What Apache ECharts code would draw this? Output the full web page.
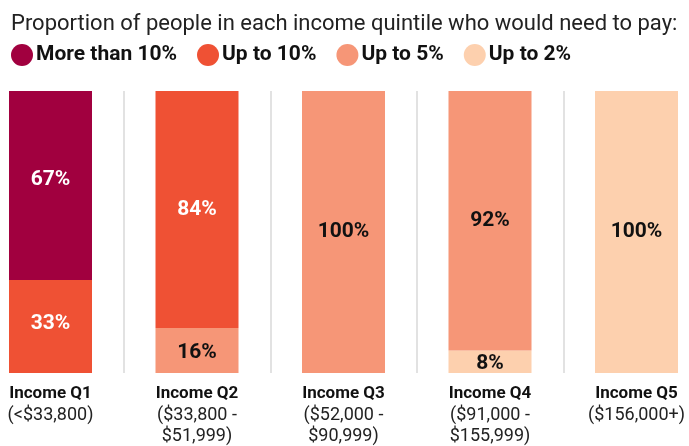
<!DOCTYPE html>
<html><head><meta charset="utf-8">
<script src="https://cdn.jsdelivr.net/npm/echarts@6/dist/echarts.min.js"></script>
<style>html,body{margin:0;padding:0;background:#fff}#c{width:689px;height:446px}</style>
</head><body><div id="c"></div>
<script>
const categories = ['Income Q1', 'Income Q2', 'Income Q3', 'Income Q4', 'Income Q5'];
const ranges = ['(<$33,800)', '($33,800 -\n$51,999)', '($52,000 -\n$90,999)', '($91,000 -\n$155,999)', '($156,000+)'];
const seriesNames = ['More than 10%', 'Up to 10%', 'Up to 5%', 'Up to 2%'];
const moreThan10 = [67, null, null, null, null];
const upTo10 = [33, 84, null, null, null];
const upTo5 = [null, 16, 100, 92, null];
const upTo2 = [null, null, null, 8, 100];
const titleText = 'Proportion of people in each income quintile who would need to pay:';

const colors = {'More than 10%': '#A1003F', 'Up to 10%': '#EF5134', 'Up to 5%': '#F69677', 'Up to 2%': '#FDD0AE'};
const labelColors = {'More than 10%': '#fff', 'Up to 10%': '#fff', 'Up to 5%': '#111', 'Up to 2%': '#111'};
const labelShift = {'More than 10%': [-6, 0, 0, 0, 0], 'Up to 10%': [-3, 0, 0, 0, 0], 'Up to 5%': [0, 2, 0, 0, 0], 'Up to 2%': [0, 0, 0, 2, 0]};
const FONT = 'Roboto';

function mk(name, data) {
  return {
    name, type: 'bar', stack: 'total', barWidth: 83,
    data: data.map((v, i) => ({value: v, label: {offset: [0, labelShift[name][i]]}})),
    itemStyle: {color: colors[name]},
    label: {show: true, position: 'inside', formatter: p => p.value + '%',
      color: labelColors[name], fontFamily: FONT, fontWeight: 'bold', fontSize: 21},
    emphasis: {disabled: true}
  };
}

const chart = echarts.init(document.getElementById('c'), null, {renderer: 'canvas'});
chart.setOption({
  animation: false,
  title: {text: titleText, left: 6, top: 8,
    textStyle: {fontFamily: FONT, fontWeight: 'normal', fontSize: 22, color: '#222'}},
  legend: {data: seriesNames, left: 6, top: 39, icon: 'circle', itemWidth: 22, itemHeight: 22, itemGap: 20,
    textStyle: {fontFamily: FONT, fontWeight: 'bold', fontSize: 21, color: '#111', padding: [0, 0, 0, -2]}},
  grid: {left: -22.75, right: -20.75, top: 91, bottom: 73, outerBoundsMode: 'none', containLabel: false},
  xAxis: {type: 'category', data: categories,
    axisLine: {show: false}, axisTick: {show: false},
    splitLine: {show: true, lineStyle: {color: '#d9d9d9', width: 1.5}},
    axisLabel: {margin: 10, interval: 0, lineHeight: 21.5,
      formatter: (v, i) => '{b|' + v + '}\n{r|' + ranges[i].split('\n').join('}\n{r|') + '}',
      rich: {
        b: {fontFamily: FONT, fontWeight: 'bold', fontSize: 17, color: '#111', lineHeight: 21.5},
        r: {fontFamily: FONT, fontWeight: 'normal', fontSize: 18, color: '#222', lineHeight: 21.5}
      }}
  },
  yAxis: {type: 'value', min: 0, max: 100, show: false, splitLine: {show: false}},
  series: [mk('Up to 2%', upTo2), mk('Up to 5%', upTo5), mk('Up to 10%', upTo10), mk('More than 10%', moreThan10)]
});
</script></body></html>
